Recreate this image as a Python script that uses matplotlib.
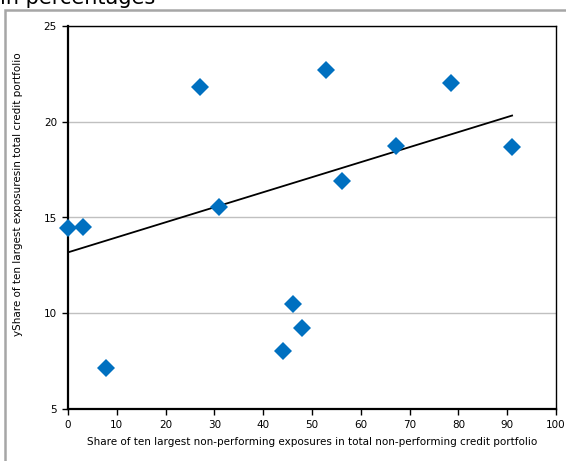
import numpy as np
import matplotlib.pyplot as plt
from matplotlib.patches import Rectangle

# share of ten largest NPL exposures (x) vs share of ten largest exposures (y), in %
npl_share = [0.0, 3.1, 7.8, 27.0, 31.0, 44.1, 46.2, 47.9, 52.8, 56.2, 67.2, 78.5, 91.0]
exp_share = [14.45, 14.5, 7.15, 21.8, 15.57, 8.05, 10.47, 9.21, 22.7, 16.9, 18.73, 22.0, 18.66]

# linear trendline as drawn in the original chart
trend_intercept = 13.18
trend_slope = 0.0785

fig = plt.figure(figsize=(5.66, 4.61), dpi=100)
ax = fig.add_axes([68/566, 1 - 409/461, (556 - 68)/566, (409 - 26)/461])

# outer chart frame, partly cut off
fig.patches.append(Rectangle((5/566, -0.1), 1.2, 1 - 10/461 + 0.1, transform=fig.transFigure,
                             fill=False, edgecolor='#a6a6a6', linewidth=1.8))
fig.text(0.0, 1 - 4/461, 'in percentages', fontsize=15, va='baseline', ha='left')

ax.set_xlim(0, 100)
ax.set_ylim(5, 25)
ax.set_xticks(np.arange(0, 101, 10))
ax.set_yticks([5, 10, 15, 20, 25])
ax.yaxis.grid(True, color='#c0c0c0', linewidth=1)
ax.set_axisbelow(True)

xs = np.array([0, max(npl_share)])
ax.plot(xs, trend_intercept + trend_slope * xs, color='black', linewidth=1.3, zorder=3)
ax.plot(npl_share, exp_share, linestyle='none', marker='D', markersize=9,
        color='#0070c0', markeredgewidth=0, zorder=4, clip_on=False)

for side in ['top', 'right']:
    ax.spines[side].set_linewidth(1.0)
for side in ['left', 'bottom']:
    ax.spines[side].set_linewidth(1.6)
ax.tick_params(direction='out', length=4, width=1, labelsize=7.5, pad=4)

ax.set_xlabel('Share of ten largest non-performing exposures in total non-performing credit portfolio',
              fontsize=7.5, labelpad=5)
ax.set_ylabel('yShare of ten largest exposuresin total credit portfolio', fontsize=7.5)
ax.yaxis.set_label_coords(-(68 - 23)/488, 1 - (194 - 26)/383)

fig.savefig('out.png', dpi=100)
